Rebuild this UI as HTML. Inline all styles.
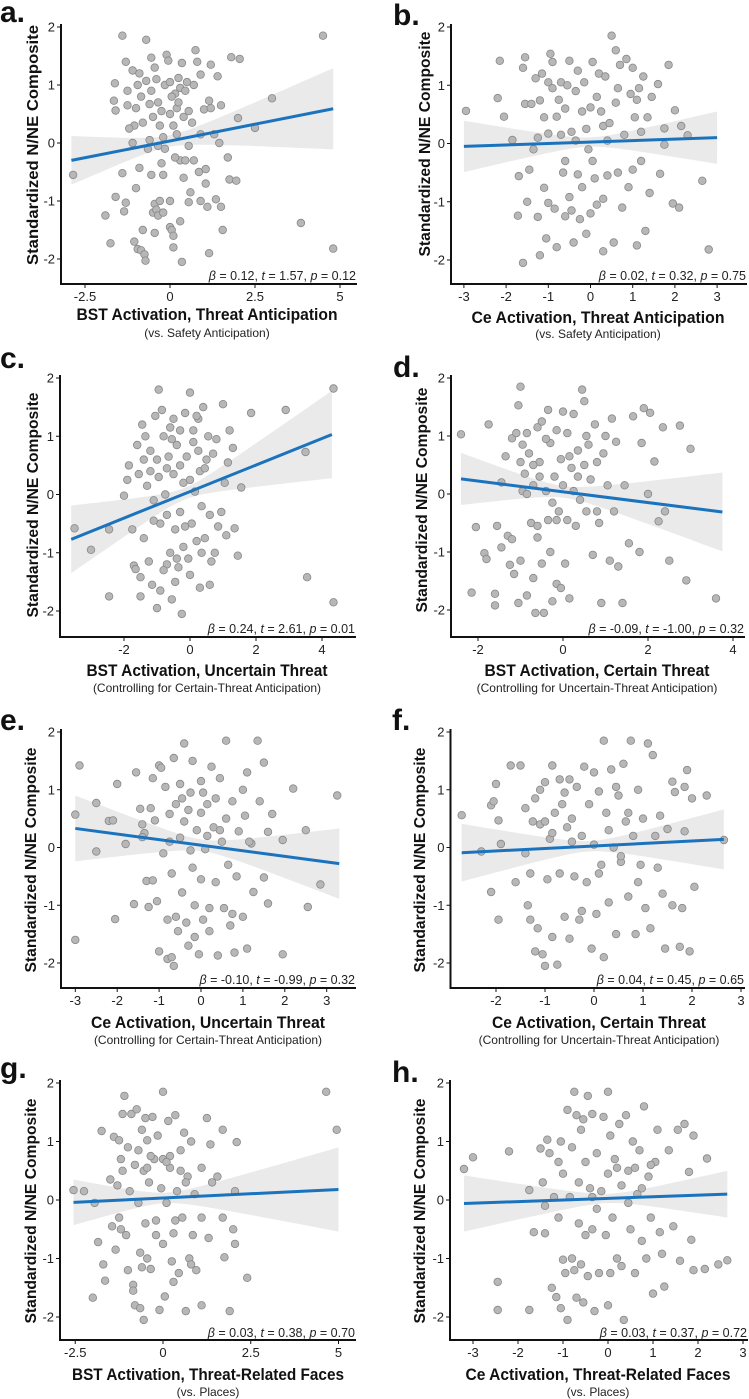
<!DOCTYPE html>
<html><head><meta charset="utf-8">
<style>
html,body{margin:0;padding:0;background:#fff;}
svg{display:block;font-family:"Liberation Sans",sans-serif;}
</style></head>
<body>
<svg id="fig" width="749" height="1399" viewBox="0 0 749 1399" xmlns="http://www.w3.org/2000/svg"></svg>
<script>
// ---------- DATA ----------
const panelLetters = ["a.","b.","c.","d.","e.","f.","g.","h."];
const xLabels = ["BST Activation, Threat Anticipation","Ce Activation, Threat Anticipation","BST Activation, Uncertain Threat","BST Activation, Certain Threat","Ce Activation, Uncertain Threat","Ce Activation, Certain Threat","BST Activation, Threat-Related Faces","Ce Activation, Threat-Related Faces"];
const xSubLabels = ["(vs. Safety Anticipation)","(vs. Safety Anticipation)","(Controlling for Certain-Threat Anticipation)","(Controlling for Uncertain-Threat Anticipation)","(Controlling for Certain-Threat Anticipation)","(Controlling for Uncertain-Threat Anticipation)","(vs. Places)","(vs. Places)"];
const betas = ["0.12","0.02","0.24","-0.09","-0.10","0.04","0.03","0.03"];
const tvals = ["1.57","0.32","2.61","-1.00","-0.99","0.45","0.38","0.37"];
const pvals = ["0.12","0.75","0.01","0.32","0.32","0.65","0.70","0.72"];
const yTicks = [2,1,0,-1,-2];
const xTicksA = [-2.5,0,2.5,5];
const xTicksB = [-3,-2,-1,0,1,2,3];
const xTicksC = [-2,0,2,4];
const xTicksD = [-2,0,2,4];
const xTicksE = [-3,-2,-1,0,1,2,3];
const xTicksF = [-2,-1,0,1,2,3];
const xTicksG = [-2.5,0,2.5,5];
const xTicksH = [-3,-2,-1,0,1,2,3];
const fitX = [[-2.9,4.8],[-3,3],[-3.6,4.3],[-2.4,3.75],[-3,3.3],[-2.7,2.65],[-2.55,5],[-3.2,2.65]];
const fitY = [[-0.3,0.59],[-0.05,0.1],[-0.77,1.03],[0.26,-0.31],[0.33,-0.28],[-0.09,0.14],[-0.04,0.18],[-0.06,0.1]];
const bandHalf = [[0.42,0.1,0.7],[0.44,0.08,0.45],[0.58,0.1,0.75],[0.45,0.1,0.68],[0.57,0.1,0.61],[0.5,0.09,0.52],[0.39,0.09,0.72],[0.48,0.08,0.4]];

const ptsA = [[-2.85,-0.55],[-1.9,-1.25],[-1.75,-1.73],[-1.6,-0.93],[-1.65,0.73],[-1.62,1.03],[-1.6,0.56],[-1.4,1.85],[-1.3,1.4],[-1.25,0.9],[-1.25,0.65],[-1.3,-1.03],[-1.35,-1.18],[-1.4,-0.52],[-1.1,1.25],[-1.05,0.3],[-1,0.6],[-0.95,1.0],[-0.9,1.2],[-0.85,0.8],[-0.9,-0.43],[-1,-0.78],[-1.05,-1.7],[-0.95,-1.83],[-0.85,-1.85],[-0.75,-1.92],[-0.72,-2.03],[-0.8,-1.5],[-0.7,1.78],[-0.7,1.07],[-0.6,0.67],[-0.6,0.05],[-0.55,-0.55],[-0.5,-1.2],[-0.45,-1.05],[-0.4,-1.15],[-0.35,-1.25],[-0.3,-1.0],[-0.55,1.47],[-0.45,1.3],[-0.4,1.1],[-0.35,0.7],[-0.3,0.3],[-0.25,-0.35],[-0.2,-0.55],[-0.15,1.0],[-0.1,1.52],[-0.05,1.42],[0,1.05],[0,0.5],[0,-1.0],[0,-1.45],[0.05,-1.5],[0.1,-1.6],[0.1,-1.8],[0.15,0.85],[0.2,0.6],[0.25,1.12],[0.3,0.95],[0.3,-0.3],[0.35,-2.05],[0.35,1.38],[0.4,0.45],[0.45,-0.3],[0.5,1.05],[0.55,-0.05],[0.6,-0.85],[0.55,-1.02],[0.65,0.35],[0.75,1.6],[0.8,1.4],[0.85,-0.5],[0.9,-1.0],[0.9,1.18],[1.0,0.58],[1.05,-0.45],[1.05,-0.7],[1.1,-1.1],[1.15,-1.9],[1.15,0.73],[1.2,1.35],[1.2,0.6],[1.3,0.15],[1.35,-0.97],[1.4,1.15],[1.45,0.0],[1.5,0.65],[1.5,-1.1],[1.55,-1.5],[1.7,-0.25],[1.75,-0.63],[1.95,-0.65],[1.8,1.48],[2.0,0.43],[2.05,1.45],[2.5,0.26],[3.0,0.77],[3.85,-1.38],[4.5,1.85],[4.8,-1.82],[-0.2,0.1],[0.2,0.15],[-0.15,-0.1],[0.1,0.3],[-0.5,0.45],[0.4,-0.6],[-0.65,-0.1],[0.7,-0.3],[0.9,0.15],[-1.1,0.0],[0.25,0.7],[-0.25,0.55],[-0.55,0.9],[0.05,0.8],[-0.35,-0.05],[0.45,0.9],[-0.8,0.35],[0.15,-0.25],[-0.45,-1.55],[0.55,0.55],[-0.2,-1.2],[0.7,1.0],[-1.2,0.25],[0.3,-1.35]];
const ptsB = [[-2.95,0.56],[-2.2,0.78],[-2.15,1.42],[-2.05,0.46],[-1.85,0.06],[-1.7,-0.56],[-1.72,-1.24],[-1.6,-2.05],[-1.6,1.3],[-1.55,1.48],[-1.55,0.68],[-1.5,-1.0],[-1.45,-0.45],[-1.4,0.68],[-1.3,1.12],[-1.25,-1.26],[-1.2,0.74],[-1.2,-1.92],[-1.15,1.2],[-1.1,-0.76],[-1.1,0.45],[-1.05,-1.63],[-1.0,1.05],[-1.0,-1.02],[-1.0,0.17],[-0.95,1.54],[-0.9,1.4],[-0.85,-1.12],[-0.8,0.46],[-0.8,-1.78],[-0.75,0.75],[-0.7,0.15],[-0.7,1.05],[-0.65,-0.5],[-0.6,0.6],[-0.6,-1.25],[-0.55,1.0],[-0.5,-0.92],[-0.5,1.42],[-0.45,-1.15],[-0.45,0.2],[-0.4,-1.7],[-0.35,0.9],[-0.3,-0.53],[-0.3,1.25],[-0.25,-1.3],[-0.2,0.55],[-0.15,1.05],[-0.1,-1.55],[-0.1,0.25],[-0.05,-0.1],[0,0.62],[0,-1.2],[0.05,1.4],[0.1,-0.6],[0.15,-1.05],[0.2,1.2],[0.25,0.55],[0.3,-1.85],[0.3,0.3],[0.35,1.15],[0.4,-0.55],[0.45,0.35],[0.5,1.85],[0.55,-1.7],[0.6,0.7],[0.6,1.6],[0.65,-0.5],[0.7,1.35],[0.75,-1.1],[0.8,0.15],[0.85,1.45],[0.9,-0.75],[0.95,0.85],[1.0,1.3],[1.0,-0.45],[1.05,0.45],[1.1,-1.75],[1.15,0.95],[1.2,-0.3],[1.25,1.15],[1.3,-1.5],[1.35,0.45],[1.4,-0.85],[1.45,0.8],[1.6,1.02],[1.65,-0.52],[1.75,0.26],[1.75,-0.02],[1.85,1.35],[1.95,-1.03],[2.0,0.57],[2.1,-1.1],[2.15,0.3],[2.3,0.14],[2.65,-0.64],[2.8,-1.82],[-0.35,0.05],[0.4,0.05],[-1.25,0.1],[1.2,0.2],[0.05,-0.3],[-0.9,0.95],[0.65,0.95],[-0.2,-0.75],[0.3,-0.95],[-0.6,-0.3],[1.1,0.75],[-1.35,-0.1],[0.15,0.8]];
const ptsC = [[-3.5,-0.58],[-3.0,-0.95],[-2.45,-1.75],[-2.45,-0.6],[-2.0,-0.02],[-1.9,0.25],[-1.85,0.5],[-1.75,-0.6],[-1.7,-1.22],[-1.65,-1.28],[-1.6,0.85],[-1.55,0.35],[-1.5,-1.42],[-1.5,-1.75],[-1.45,1.2],[-1.4,0.6],[-1.4,-0.75],[-1.35,1.0],[-1.3,0.15],[-1.25,-1.15],[-1.2,0.75],[-1.15,-1.55],[-1.1,-0.1],[-1.05,1.35],[-1.0,0.6],[-1.0,-1.95],[-0.95,1.8],[-0.95,0.3],[-0.9,-0.5],[-0.9,-1.65],[-0.85,1.45],[-0.8,1.0],[-0.75,0.0],[-0.7,-1.2],[-0.7,-0.35],[-0.65,0.65],[-0.6,1.15],[-0.6,-1.0],[-0.55,-1.8],[-0.5,0.35],[-0.5,1.3],[-0.45,-0.6],[-0.45,-1.5],[-0.4,0.85],[-0.35,-1.25],[-0.3,0.5],[-0.3,1.1],[-0.25,-2.05],[-0.2,0.2],[-0.2,-0.9],[-0.15,1.4],[-0.1,0.65],[-0.05,-1.1],[0,1.75],[0,0.25],[0,-1.38],[0.05,-0.5],[0.1,1.1],[0.15,0.05],[0.2,-0.8],[0.25,1.3],[0.3,-1.6],[0.3,0.4],[0.35,-0.2],[0.4,1.5],[0.45,-0.75],[0.5,0.6],[0.55,1.0],[0.6,-0.35],[0.65,-1.15],[0.7,0.7],[0.75,-1.0],[0.8,0.95],[0.85,-0.55],[0.95,-0.3],[1.0,1.55],[1.05,0.2],[1.1,-0.7],[1.15,0.55],[1.2,1.1],[1.3,0.8],[1.35,-0.58],[1.45,-1.05],[1.55,0.12],[1.85,1.4],[2.9,1.45],[3.5,0.73],[3.55,-1.42],[4.35,1.82],[4.35,-1.85],[-0.7,0.45],[0.25,0.75],[-0.15,-0.55],[0.45,0.45],[-1.2,0.4],[0.6,-1.55],[-0.8,-1.3],[-0.4,-1.1],[0.1,0.9],[-0.55,0.95],[0.35,-1.0],[-1.1,-0.45],[0.2,1.35],[-0.3,-0.3]];
const ptsD = [[-2.4,1.03],[-2.15,-1.7],[-2.05,-0.57],[-1.85,-1.02],[-1.8,-1.12],[-1.75,1.2],[-1.6,-1.72],[-1.6,-1.92],[-1.55,-0.55],[-1.45,0.2],[-1.45,-0.92],[-1.35,0.65],[-1.3,-0.72],[-1.25,-1.22],[-1.2,-0.78],[-1.2,0.96],[-1.15,-1.38],[-1.1,1.05],[-1.05,1.53],[-1.05,-1.88],[-1.0,1.85],[-1.0,0.55],[-1.0,-1.15],[-0.95,0.05],[-0.9,0.35],[-0.85,1.05],[-0.85,-1.75],[-0.8,0.7],[-0.75,-0.5],[-0.7,0.15],[-0.7,-1.45],[-0.65,-2.05],[-0.6,1.15],[-0.6,-0.75],[-0.55,0.55],[-0.5,1.25],[-0.5,-1.2],[-0.45,-2.05],[-0.4,0.05],[-0.35,1.45],[-0.35,-0.45],[-0.3,0.88],[-0.3,-1.0],[-0.25,-1.85],[-0.2,0.3],[-0.15,1.1],[-0.15,-1.55],[-0.1,-0.3],[-0.05,0.6],[-0.05,-1.62],[0,1.42],[0,0.15],[0.05,-1.2],[0.1,1.05],[0.1,-0.45],[0.15,-1.8],[0.2,0.45],[0.25,1.38],[0.3,-0.55],[0.35,0.75],[0.4,-0.1],[0.45,1.8],[0.5,1.6],[0.55,-0.3],[0.6,0.85],[0.65,0.25],[0.7,-1.05],[0.75,1.2],[0.8,0.55],[0.85,-0.5],[0.9,-1.88],[0.95,0.7],[1.0,1.0],[1.05,0.15],[1.1,-1.15],[1.15,1.3],[1.2,-0.3],[1.25,0.9],[1.3,-1.25],[1.4,-1.88],[1.45,0.15],[1.55,-0.85],[1.65,1.34],[1.8,-1.0],[1.85,0.88],[1.9,1.48],[2.0,0.0],[2.05,1.4],[2.15,0.56],[2.25,-0.47],[2.35,1.15],[2.4,-0.3],[2.5,-1.15],[2.75,1.18],[2.9,-1.49],[3.0,0.78],[3.6,-1.8],[-0.55,0.3],[0.25,0.05],[-0.15,-0.45],[0.55,1.0],[-0.85,0.0],[0.8,-0.3],[-0.4,0.95],[0.15,0.65],[-0.7,0.5],[0.35,0.3],[-0.25,-0.15],[0.5,0.5],[-0.6,-0.55],[-0.95,0.85]];
const ptsE = [[-3.0,-1.6],[-3.0,0.57],[-2.9,1.42],[-2.5,0.77],[-2.5,-0.07],[-2.2,0.46],[-2.1,0.47],[-2.05,-1.24],[-2.0,1.1],[-1.8,0.06],[-1.6,-0.98],[-1.55,1.3],[-1.45,0.67],[-1.4,0.4],[-1.35,0.25],[-1.3,-0.58],[-1.25,-1.03],[-1.2,0.68],[-1.15,1.2],[-1.15,-0.57],[-1.1,0.47],[-1.05,-0.93],[-1.0,1.42],[-1.0,-1.8],[-0.95,1.38],[-0.9,-0.1],[-0.85,1.05],[-0.8,-1.25],[-0.8,-1.93],[-0.75,0.58],[-0.7,-0.45],[-0.7,-1.9],[-0.65,1.55],[-0.65,-2.05],[-0.6,0.75],[-0.55,-1.45],[-0.5,1.1],[-0.5,0.17],[-0.45,-0.78],[-0.4,1.8],[-0.4,0.45],[-0.35,-1.3],[-0.3,-1.7],[-0.25,0.95],[-0.2,-0.35],[-0.2,1.5],[-0.15,-1.0],[-0.1,0.3],[-0.05,-1.85],[0,1.15],[0,0.6],[0,-0.55],[0.05,-1.25],[0.1,-0.03],[0.15,0.75],[0.2,-1.45],[0.25,1.4],[0.3,0.35],[0.35,-0.6],[0.4,-1.87],[0.45,1.2],[0.5,0.1],[0.55,-1.05],[0.6,0.5],[0.6,1.85],[0.65,-0.3],[0.7,-1.35],[0.75,0.8],[0.8,-1.82],[0.85,-0.5],[0.9,0.28],[1.0,1.0],[1.0,-1.2],[1.05,0.55],[1.1,1.3],[1.1,-1.75],[1.2,0.07],[1.25,-0.77],[1.35,1.85],[1.4,0.8],[1.5,1.47],[1.5,-0.52],[1.6,0.27],[1.6,-0.97],[1.7,0.58],[1.95,0.13],[1.95,-1.85],[2.2,1.02],[2.5,0.3],[2.55,-1.03],[2.85,-0.64],[3.25,0.9],[-0.75,0.1],[0.45,0.3],[-0.25,-0.05],[0.15,0.2],[-1.4,0.18],[1.15,0.1],[-0.45,0.85],[0.05,0.95],[-0.3,0.65],[0.35,0.85],[-0.6,-1.2],[0.2,-1.05],[-0.15,-1.55],[0.75,-1.15]];
const ptsF = [[-2.7,0.56],[-2.3,-0.07],[-2.1,0.73],[-2.1,-0.77],[-2.05,0.8],[-2.0,1.1],[-1.95,-1.25],[-1.95,0.47],[-1.9,0.06],[-1.7,1.42],[-1.6,-0.6],[-1.5,1.42],[-1.4,-0.1],[-1.4,0.68],[-1.35,-1.0],[-1.3,-1.25],[-1.3,-0.45],[-1.2,-1.8],[-1.2,0.85],[-1.15,-1.4],[-1.1,1.0],[-1.1,0.4],[-1.05,-1.85],[-1.0,-2.05],[-1.0,1.13],[-0.95,-0.55],[-0.9,0.15],[-0.85,1.42],[-0.85,-1.55],[-0.8,0.6],[-0.75,-2.03],[-0.7,1.18],[-0.7,-0.45],[-0.65,0.75],[-0.6,-1.2],[-0.55,0.35],[-0.5,1.18],[-0.5,-1.58],[-0.45,0.5],[-0.4,-0.5],[-0.35,1.05],[-0.3,-1.25],[-0.25,0.2],[-0.2,1.4],[-0.15,-0.6],[-0.1,0.75],[-0.05,-1.75],[0,1.3],[0,0.05],[0.05,-1.15],[0.1,0.97],[0.15,-0.3],[0.2,1.85],[0.2,-1.9],[0.25,0.6],[0.3,-0.95],[0.35,1.35],[0.4,0.0],[0.45,-1.5],[0.5,0.9],[0.55,-0.25],[0.6,1.45],[0.65,0.45],[0.7,-0.85],[0.75,1.85],[0.8,0.2],[0.85,-1.5],[0.9,1.0],[0.95,-0.3],[1.0,0.5],[1.05,-1.05],[1.1,1.8],[1.15,-1.4],[1.2,1.6],[1.25,0.2],[1.3,-0.35],[1.35,0.55],[1.4,-0.8],[1.45,-1.75],[1.5,0.32],[1.6,-1.0],[1.6,1.14],[1.65,0.96],[1.75,-1.72],[1.8,-1.05],[1.85,1.05],[1.85,0.28],[1.9,1.34],[1.95,-1.8],[2.0,0.85],[2.05,-0.68],[2.3,0.9],[2.65,0.13],[-0.45,0.1],[0.55,-0.15],[-1.0,0.45],[0.1,-0.45],[-0.6,0.95],[0.3,0.3],[-0.25,-1.1],[0.7,0.6],[-0.85,0.25],[0.9,-0.6],[-1.25,0.45],[0.45,1.05]];
const ptsG = [[-2.55,0.17],[-2.25,0.15],[-2.0,-1.67],[-1.95,-0.05],[-1.85,-0.72],[-1.75,1.18],[-1.7,-1.1],[-1.65,-1.38],[-1.5,0.35],[-1.45,-0.45],[-1.4,1.08],[-1.35,-0.85],[-1.3,0.25],[-1.25,1.02],[-1.25,-0.3],[-1.2,-0.5],[-1.15,0.5],[-1.15,1.47],[-1.1,1.78],[-1.05,-0.6],[-1.0,0.9],[-1.0,-1.2],[-0.95,0.15],[-0.9,1.47],[-0.85,-1.45],[-0.8,0.6],[-0.8,-1.8],[-0.75,1.55],[-0.7,0.85],[-0.7,-0.05],[-0.65,-1.85],[-0.6,1.2],[-0.6,-1.15],[-0.55,0.5],[-0.55,-2.05],[-0.5,-0.4],[-0.45,1.02],[-0.45,-1.0],[-0.4,0.3],[-0.35,-1.18],[-0.3,1.42],[-0.25,0.7],[-0.2,-0.35],[-0.15,1.1],[-0.1,-1.88],[-0.05,0.2],[0,1.85],[0,0.7],[0,-0.75],[0.05,-1.65],[0.1,-0.05],[0.15,1.35],[0.2,0.55],[0.25,-1.05],[0.3,-0.57],[0.35,1.45],[0.4,0.15],[0.45,-1.25],[0.5,0.85],[0.55,-0.3],[0.6,1.15],[0.65,-1.9],[0.7,0.4],[0.75,-1.0],[0.8,1.0],[0.85,-0.6],[0.9,0.1],[0.95,-1.2],[1.1,0.55],[1.1,-0.3],[1.1,-1.8],[1.25,1.4],[1.3,-0.65],[1.35,0.95],[1.4,0.3],[1.55,0.4],[1.7,-0.3],[1.7,1.2],[1.75,-0.98],[1.9,-1.9],[2.0,-0.5],[2.05,0.15],[2.05,-0.75],[2.1,0.99],[2.4,-1.33],[4.65,1.85],[4.95,1.2],[-0.45,0.55],[0.35,-0.35],[-0.65,-0.9],[0.65,0.3],[-1.2,0.7],[0.2,0.75],[-0.35,0.75],[0.1,0.65],[-0.2,-0.6],[0.5,0.5],[-0.85,-1.55],[0.3,-1.4],[-0.5,1.4],[0.8,-1.1]];
const ptsH = [[-3.2,0.53],[-3.0,0.73],[-2.45,-1.4],[-2.45,-1.88],[-2.2,0.83],[-1.75,-1.88],[-1.75,0.17],[-1.65,-0.55],[-1.5,0.88],[-1.45,0.3],[-1.4,-0.57],[-1.35,1.03],[-1.3,0.8],[-1.25,-1.5],[-1.2,0.05],[-1.15,-1.66],[-1.1,-0.3],[-1.05,1.0],[-1.05,-1.85],[-1.0,0.45],[-1.0,-1.02],[-0.95,-1.25],[-0.9,1.54],[-0.9,-2.05],[-0.85,0.05],[-0.8,0.9],[-0.8,-1.0],[-0.75,1.85],[-0.7,1.45],[-0.7,-1.67],[-0.65,0.3],[-0.6,1.2],[-0.6,-1.1],[-0.55,-1.75],[-0.5,0.65],[-0.5,-0.6],[-0.45,1.78],[-0.45,-1.3],[-0.4,0.2],[-0.35,1.47],[-0.35,-0.5],[-0.3,-1.9],[-0.25,0.8],[-0.2,-1.25],[-0.15,0.15],[-0.1,1.42],[-0.05,-0.6],[0,1.85],[0,0.45],[0,-1.8],[0.05,1.1],[0.1,-0.3],[0.15,0.7],[0.2,-1.0],[0.25,1.3],[0.3,-1.13],[0.3,0.25],[0.35,-2.05],[0.4,1.45],[0.45,0.5],[0.5,-0.5],[0.55,1.0],[0.6,-1.25],[0.65,0.1],[0.7,0.85],[0.75,-0.7],[0.8,1.6],[0.85,-1.0],[0.9,0.4],[0.95,-0.3],[1.0,-1.6],[1.05,0.65],[1.1,1.2],[1.15,-0.55],[1.2,-0.92],[1.25,-1.48],[1.35,0.85],[1.45,-0.45],[1.55,1.2],[1.6,-1.04],[1.7,1.3],[1.8,0.48],[1.85,-0.68],[1.9,1.1],[1.9,-1.2],[2.15,-1.18],[2.2,0.71],[2.45,-1.1],[2.65,-1.03],[-0.35,0.05],[0.45,-0.05],[-0.65,-0.4],[0.75,0.2],[-1.4,-0.1],[-0.55,1.38],[0.2,0.55],[-0.25,-0.15],[0.6,0.55],[-0.75,-1.2],[0.05,-1.25],[-1.1,0.65],[0.95,0.6]];

// ---------- LAYOUT (pixels) ----------
const allPts = [ptsA,ptsB,ptsC,ptsD,ptsE,ptsF,ptsG,ptsH];
const allTicks = [xTicksA,xTicksB,xTicksC,xTicksD,xTicksE,xTicksF,xTicksG,xTicksH];
const origins = [[0,0],[375,0],[0,345],[375,345],[0,690],[375,690],[0,1035],[375,1035]];
// axisX, yAt2, yAtNeg2, xAxisY, rightX, xZeroPx, pxPerUnit
const geo = [[61,27,259,284,357,170,34],[76,27,260,284,372,215.5,42.2],[60,33,266,292,356,190,33],[76,33,265,292,370,188,42.5],[61,42,273,298,356,201,41.9],[75.5,42,273,298,370,219,49],[60,48,282,305,356,163,35.1],[75,48,282,305,373,233,45]];
const letterPos = [[0,22],[18,25],[0,23],[18,32],[0,40],[17,40],[0,43],[17,47]];
const yLabPos = [[33,145],[50,144],[33,160],[47,155],[31,170],[45,170],[31,176],[45,176]];
const xLab = [[207,261,314,333],[223,253,317,334],[207,241,325,343],[222,225,325,343],[208,234,332,350],[224,214,332,350],[208,272,339,357],[223,265,339,357]];
const statY = [280,280,288,288,294,294,302,302];

const NS = "http://www.w3.org/2000/svg";
const svg = document.getElementById('fig');
function mk(tag, attrs, parent){
  const e = document.createElementNS(NS, tag);
  for (const k in attrs) e.setAttribute(k, attrs[k]);
  parent.appendChild(e); return e;
}

for (let i=0;i<8;i++){
  const [ox,oy] = origins[i];
  const [ax,y2,yn2,xay,rx,x0p,ux] = geo[i];
  const g = mk('g',{transform:`translate(${ox},${oy})`},svg);
  
  
  const xs = v => x0p + ux*v;
  const yScale = v => (y2+yn2)/2 - v*(yn2-y2)/4;

  const L = mk('text',{x:letterPos[i][0],y:letterPos[i][1],'font-size':30,'font-weight':'bold',fill:'#111'},g);
  L.textContent = panelLetters[i];
  
  

  const [fx0,fx1] = fitX[i], [fy0,fy1] = fitY[i], [hL,h0,hR] = bandHalf[i];
  const r = Math.sqrt(Math.max(hL*hL-h0*h0,1e-6)/Math.max(hR*hR-h0*h0,1e-6));
  const xc = (fx0 + r*fx1)/(1+r);
  const c = (hR*hR-h0*h0)/Math.pow(fx1-xc,2);
  const lineAt = v => fy0 + (fy1-fy0)*(v-fx0)/(fx1-fx0);
  const hw = v => Math.sqrt(h0*h0 + c*(v-xc)*(v-xc));
  let up=[], lo=[];
  for (let k=0;k<=40;k++){
    const v = fx0 + (fx1-fx0)*k/40;
    up.push(xs(v).toFixed(1)+','+yScale(lineAt(v)+hw(v)).toFixed(1));
    lo.unshift(xs(v).toFixed(1)+','+yScale(lineAt(v)-hw(v)).toFixed(1));
  }
  const band = mk('polygon',{points:up.concat(lo).join(' '),fill:'#e6e6e6',opacity:0.85},g);
  
  

  const pg = mk('g',{},g);
  
  
  allPts[i].forEach(p=>{
    const d = mk('circle',{cx:xs(p[0]).toFixed(1),cy:yScale(p[1]).toFixed(1),r:3.8,fill:'#b7b7b7',stroke:'#888','stroke-width':0.8},pg);
    
    
  });

  const fl = mk('line',{x1:xs(fx0),y1:yScale(fy0),x2:xs(fx1),y2:yScale(fy1),stroke:'#1b73bd','stroke-width':3},g);
  
  

  const yl = mk('line',{x1:ax,y1:y2-3,x2:ax,y2:xay,stroke:'#111','stroke-width':2},g);
  
  
  const xl = mk('line',{x1:ax-1,y1:xay,x2:rx,y2:xay,stroke:'#111','stroke-width':2},g);
  
  

  yTicks.forEach(t=>{
    const yy = yScale(t);
    mk('line',{x1:ax-4,y1:yy,x2:ax,y2:yy,stroke:'#111','stroke-width':1},g);
    const tl = mk('text',{x:ax-6,y:yy+4.5,'font-size':13,'text-anchor':'end',fill:'#222'},g);
    tl.textContent = String(t);
    
    
  });
  allTicks[i].forEach(t=>{
    const xx = xs(t);
    mk('line',{x1:xx,y1:xay,x2:xx,y2:xay+4,stroke:'#111','stroke-width':1},g);
    const tl = mk('text',{x:xx,y:xay+17,'font-size':13,'text-anchor':'middle',fill:'#222'},g);
    tl.textContent = String(t);
    
    
  });

  const [ylx,yly] = yLabPos[i];
  const yt = mk('text',{x:0,y:0,transform:`translate(${ylx+5},${yly}) rotate(-90)`,'font-size':15.5,'font-weight':'bold','text-anchor':'middle',fill:'#111',textLength:i==0?240:225,lengthAdjust:'spacingAndGlyphs'},g);
  yt.textContent = 'Standardized N/NE Composite';
  
  

  const [cx,len,yA,yB] = xLab[i];
  const xt = mk('text',{x:cx,y:yA+6,'font-size':16.5,'font-weight':'bold','text-anchor':'middle',fill:'#111',textLength:len,lengthAdjust:'spacingAndGlyphs'},g);
  xt.textContent = xLabels[i];
  
  
  const st = mk('text',{x:cx,y:yB+4,'font-size':12,'text-anchor':'middle',fill:'#222'},g);
  st.textContent = xSubLabels[i];
  
  

  const sx = mk('text',{x:rx-1,y:statY[i],'font-size':12.5,'text-anchor':'end',fill:'#222'},g);
  
  
  const parts = [['β',true],[' = '+betas[i]+', ',false],['t',true],[' = '+tvals[i]+', ',false],['p',true],[' = '+pvals[i],false]];
  parts.forEach(([txt,it])=>{
    const ts = mk('tspan',it?{'font-style':'italic'}:{},sx);
    ts.textContent = txt;
  });
}
</script>
</body></html>
